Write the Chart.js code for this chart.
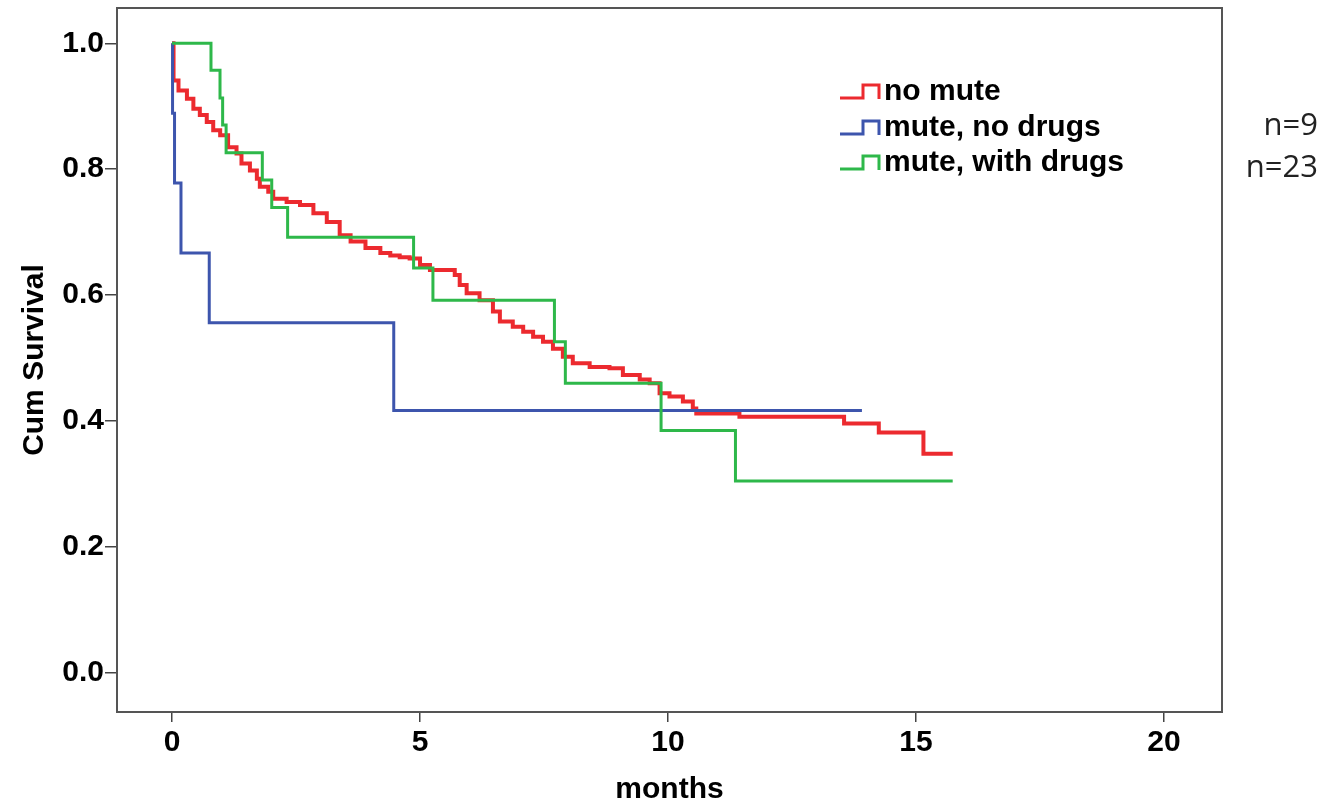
<!DOCTYPE html>
<html>
<head>
<meta charset="utf-8">
<script src="https://cdn.jsdelivr.net/npm/chart.js@4.4.1/dist/chart.umd.min.js"></script>
<style>
  html, body { margin: 0; padding: 0; background: #fff; }
  #wrap { width: 1322px; height: 803px; }
</style>
</head>
<body>
<div id="wrap"><canvas id="kmChart" width="1322" height="803"></canvas></div>
<script>
// survival curves (months, cum survival)
const noMuteMonths = [0, 0.03, 0.13, 0.30, 0.43, 0.56, 0.70, 0.83, 0.97, 1.13, 1.30, 1.40, 1.57, 1.71, 1.77, 1.94, 2.04, 2.31, 2.58, 2.85, 3.12, 3.38, 3.6, 3.9, 4.2, 4.4, 4.59, 4.79, 5.0, 5.2, 5.70, 5.80, 5.94, 6.20, 6.47, 6.61, 6.87, 7.08, 7.28, 7.48, 7.68, 7.88, 8.08, 8.42, 8.82, 9.09, 9.43, 9.63, 9.83, 10.03, 10.30, 10.50, 10.57, 11.44, 13.55, 14.25, 15.15, 15.74];
const noMuteSurv = [1.0, 0.941, 0.925, 0.912, 0.896, 0.886, 0.875, 0.862, 0.854, 0.835, 0.825, 0.809, 0.798, 0.785, 0.772, 0.764, 0.753, 0.748, 0.743, 0.730, 0.716, 0.695, 0.685, 0.675, 0.667, 0.663, 0.660, 0.658, 0.648, 0.640, 0.632, 0.616, 0.603, 0.592, 0.574, 0.558, 0.550, 0.542, 0.534, 0.526, 0.515, 0.502, 0.492, 0.486, 0.484, 0.473, 0.466, 0.460, 0.444, 0.439, 0.431, 0.420, 0.412, 0.407, 0.396, 0.382, 0.348, 0.348];

const noDrugsMonths = [0, 0.01, 0.05, 0.18, 0.75, 4.47, 13.91];
const noDrugsSurv = [1.0, 0.889, 0.778, 0.667, 0.556, 0.417, 0.417];

const withDrugsMonths = [0, 0.785, 0.967, 1.02, 1.09, 1.82, 2.01, 2.33, 4.87, 5.26, 7.71, 7.93, 9.86, 11.36, 15.74];
const withDrugsSurv = [1.0, 0.957, 0.913, 0.870, 0.826, 0.783, 0.739, 0.692, 0.643, 0.592, 0.526, 0.460, 0.385, 0.305, 0.305];

const seriesNames = ["no mute", "mute, no drugs", "mute, with drugs"];
const seriesCounts = ["", "n=9", "n=23"];
const xTicks = [0, 5, 10, 15, 20];
const yTicks = [0, 0.2, 0.4, 0.6, 0.8, 1.0];

const RED = "#ec2a2f", BLUE = "#3d55ad", GREEN = "#2eb84a";
const colors = [RED, BLUE, GREEN];
const BOLD = "'Liberation Sans', Arial, sans-serif";

function toPoints(xs, ys) {
  return xs.map(function (x, i) { return { x: x, y: ys[i] }; });
}

// frame, legend and the n= labels
const extrasPlugin = {
  id: "extras",
  afterDraw: function (chart) {
    const ctx = chart.ctx;
    const a = chart.chartArea;
    ctx.save();
    ctx.strokeStyle = "#555";
    ctx.lineWidth = 2;
    ctx.strokeRect(a.left, a.top, a.right - a.left, a.bottom - a.top);

    const rowY = [92, 128, 163];
    ctx.lineWidth = 3;
    ctx.font = "bold 30px " + BOLD;
    ctx.textBaseline = "middle";
    seriesNames.forEach(function (name, i) {
      const y = rowY[i];
      ctx.strokeStyle = colors[i];
      ctx.beginPath();
      ctx.moveTo(840, y + 6);
      ctx.lineTo(863, y + 6);
      ctx.lineTo(863, y - 7);
      ctx.lineTo(879, y - 7);
      ctx.lineTo(879, y + 7);
      ctx.stroke();
      ctx.fillStyle = "#000";
      ctx.textAlign = "left";
      ctx.fillText(name, 884, y);
    });

    ctx.font = "31px 'Open Sans', 'Noto Sans', sans-serif";
    ctx.textAlign = "right";
    ctx.fillStyle = "#222";
    ctx.fillText(seriesCounts[1], 1318, 126);
    ctx.fillText(seriesCounts[2], 1318, 168);
    ctx.restore();
  }
};

const lineStyle = { fill: false, stepped: "before", pointRadius: 0, borderWidth: 3, tension: 0 };

const data = {
  datasets: [
    Object.assign({ label: seriesNames[0], data: toPoints(noMuteMonths, noMuteSurv), borderColor: RED, order: 2 }, lineStyle, { borderWidth: 4 }),
    Object.assign({ label: seriesNames[1], data: toPoints(noDrugsMonths, noDrugsSurv), borderColor: BLUE, order: 1 }, lineStyle),
    Object.assign({ label: seriesNames[2], data: toPoints(withDrugsMonths, withDrugsSurv), borderColor: GREEN, order: 0 }, lineStyle),
  ],
};

const config = {
  type: "line",
  data: data,
  options: {
    responsive: false,
    animation: false,
    layout: { padding: { top: 8, right: 100, left: 0, bottom: 0 } },
    plugins: {
      legend: { display: false },
      tooltip: { enabled: false },
    },
    scales: {
      x: {
        type: "linear",
        min: -1.11,
        max: 21.17,
        afterBuildTicks: function (scale) { scale.ticks = xTicks.map(function (v) { return { value: v }; }); },
        afterFit: function (scale) { scale.height = 91; },
        grid: { drawOnChartArea: false, drawTicks: true, tickLength: 10, color: "#444", lineWidth: 1.5 },
        border: { display: true, color: "#555", width: 2 },
        ticks: { color: "#000", padding: 3, font: { family: BOLD, size: 30, weight: "bold" } },
        title: { display: true, text: "months", color: "#000", padding: { top: 0, bottom: 0 }, font: { family: BOLD, size: 30, weight: "bold", lineHeight: 0.9 } },
      },
      y: {
        type: "linear",
        min: -0.062,
        max: 1.056,
        afterBuildTicks: function (scale) { scale.ticks = yTicks.map(function (v) { return { value: v }; }); },
        afterFit: function (scale) { scale.width = 117; },
        grid: { drawOnChartArea: false, drawTicks: true, tickLength: 12, color: "#444", lineWidth: 1.5 },
        border: { display: true, color: "#555", width: 2 },
        ticks: {
          color: "#000", padding: 1,
          font: { family: BOLD, size: 30, weight: "bold", lineHeight: 0.4 },
          callback: function (v) { return v.toFixed(1); },
        },
        title: { display: true, text: "Cum Survival", color: "#000", padding: { top: 20, bottom: 0 }, font: { family: BOLD, size: 30, weight: "bold", lineHeight: 1 } },
      },
    },
  },
  plugins: [extrasPlugin],
};

const kmChart = new Chart(document.getElementById("kmChart"), config);
</script>
</body>
</html>
